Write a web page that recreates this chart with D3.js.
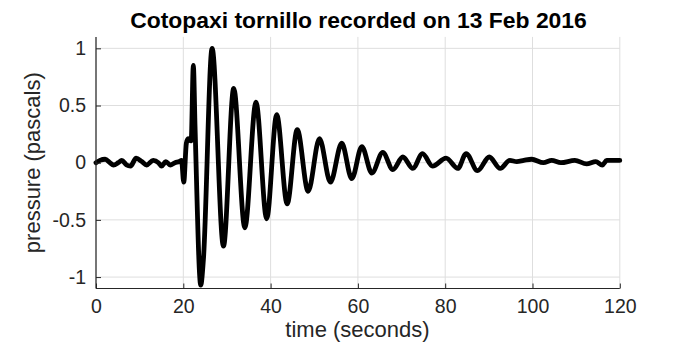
<!DOCTYPE html>
<html>
<head>
<meta charset="utf-8">
<script src="https://cdn.jsdelivr.net/npm/d3@7"></script>
<style>
  body { margin: 0; background: #fff; }
  svg { display: block; font-family: "Liberation Sans", Arial, Helvetica, sans-serif; }
</style>
</head>
<body>
<div id="chart"></div>
<script>
'use strict';

// seconds
var times = [0, 0.9, 2.1, 3.2, 4.0, 5.1, 5.9, 7.0, 7.9, 9.2, 10.5, 11.6, 13.1, 14.3, 15.0, 16.0, 17.0, 18.1, 19.1, 19.6,
    20.1, 20.7, 21.1, 21.8, 22.3, 22.7, 24.0, 24.6, 26.6, 29.2, 31.55, 34.1, 36.65, 39.1, 41.4, 43.8, 46.1, 48.6,
    51.2, 53.7, 56.3, 58.6, 60.9, 63.2, 65.7, 68.0, 70.3, 72.6, 74.8, 77.1, 80.2, 82.9, 84.8, 87.4, 90.1, 92.6,
    94.8, 96.4, 98.0, 99.8, 102.5, 104.4, 106.5, 109.7, 112.4, 114.5, 116.0, 117.0, 118.5, 120];
// pascals
var pressure = [0.00, 0.02, 0.03, 0.00, -0.02, 0.00, 0.02, -0.02, -0.03, 0.04, 0.01, -0.02, 0.02, 0.00, -0.03, 0.01, -0.02, 0.00, 0.01, 0.02,
    -0.17, 0.17, 0.21, 0.19, 0.85, 0.30, -1.07, -0.85, 1.00, -0.73, 0.65, -0.57, 0.53, -0.49, 0.42, -0.36, 0.29, -0.25,
    0.21, -0.17, 0.17, -0.14, 0.14, -0.09, 0.09, -0.06, 0.05, -0.05, 0.08, -0.03, 0.04, -0.05, 0.08, -0.07, 0.05, -0.05,
    0.02, 0.01, 0.02, 0.03, 0.00, 0.02, 0.00, 0.02, -0.01, 0.01, -0.02, 0.02, 0.02, 0.02];

var xTicks = [0, 20, 40, 60, 80, 100, 120];
var yTicks = [-1, -0.5, 0, 0.5, 1];
var yTickLabels = ['-1', '-0.5', '0', '0.5', '1'];

var width = 693, height = 347;
var axisColor = '#262626';

var svg = d3.select('#chart').append('svg')
    .attr('width', width)
    .attr('height', height);

var x = d3.scaleLinear().domain([0, 120]).range([96, 619.8]);
var y = d3.scaleLinear().domain([-1.1, 1.1]).range([288.5, 36.9]);

// grid
svg.append('g').selectAll('line')
    .data(xTicks)
    .enter().append('line')
    .attr('x1', function(d) { return x(d); })
    .attr('x2', function(d) { return x(d); })
    .attr('y1', y(-1.1))
    .attr('y2', y(1.1))
    .style('stroke', '#dedede')
    .style('stroke-width', 1);
svg.append('g').selectAll('line')
    .data(yTicks)
    .enter().append('line')
    .attr('x1', x(0))
    .attr('x2', x(120))
    .attr('y1', function(d) { return y(d); })
    .attr('y2', function(d) { return y(d); })
    .style('stroke', '#dedede')
    .style('stroke-width', 1);

// the trace
var line = d3.line()
    .x(function(d) { return x(d[0]); })
    .y(function(d) { return y(d[1]); })
    .curve(d3.curveMonotoneX);

svg.append('path')
    .datum(d3.zip(times, pressure))
    .attr('d', line)
    .style('fill', 'none')
    .style('stroke', '#000')
    .style('stroke-width', 4.8)
    .style('stroke-linejoin', 'round')
    .style('stroke-linecap', 'round');

// axes (ticks inside, matlab style)
var xAxis = d3.axisBottom(x).tickValues(xTicks).tickSize(-5).tickPadding(14).tickFormat(d3.format('d'));
var yAxis = d3.axisLeft(y).tickValues(yTicks).tickSize(-5).tickPadding(14)
    .tickFormat(function(d, i) { return yTickLabels[i]; });

var gx = svg.append('g')
    .attr('transform', 'translate(0,' + y(-1.1) + ')')
    .call(xAxis);
var gy = svg.append('g')
    .attr('transform', 'translate(' + x(0) + ',0)')
    .call(yAxis);

[gx, gy].forEach(function(g) {
    g.select('.domain').style('stroke', axisColor).attr('stroke-width', 1.2);
    g.selectAll('.tick line').style('stroke', axisColor);
    g.selectAll('.tick text')
        .style('fill', axisColor)
        .style('font-size', '19.5px')
        .style('font-family', '"Liberation Sans", Arial, sans-serif');
});
gx.select('.domain').attr('d', 'M' + x(0) + ',0H' + x(120));
gy.select('.domain').attr('d', 'M0,' + y(-1.1) + 'V' + y(1.1));
gy.selectAll('.tick text').attr('x', -10);
gx.selectAll('.tick text').attr('y', 11);

// labels
svg.append('text')
    .attr('x', 358.5)
    .attr('y', 27.5)
    .attr('text-anchor', 'middle')
    .style('font-size', '22.9px')
    .style('font-weight', 'bold')
    .style('fill', '#000')
    .text('Cotopaxi tornillo recorded on 13 Feb 2016');

svg.append('text')
    .attr('x', 357.5)
    .attr('y', 337)
    .attr('text-anchor', 'middle')
    .style('font-size', '22px')
    .style('fill', axisColor)
    .text('time (seconds)');

svg.append('text')
    .attr('transform', 'translate(40,' + y(0) + ') rotate(-90)')
    .attr('text-anchor', 'middle')
    .style('font-size', '22px')
    .style('fill', axisColor)
    .text('pressure (pascals)');
</script>
</body>
</html>
